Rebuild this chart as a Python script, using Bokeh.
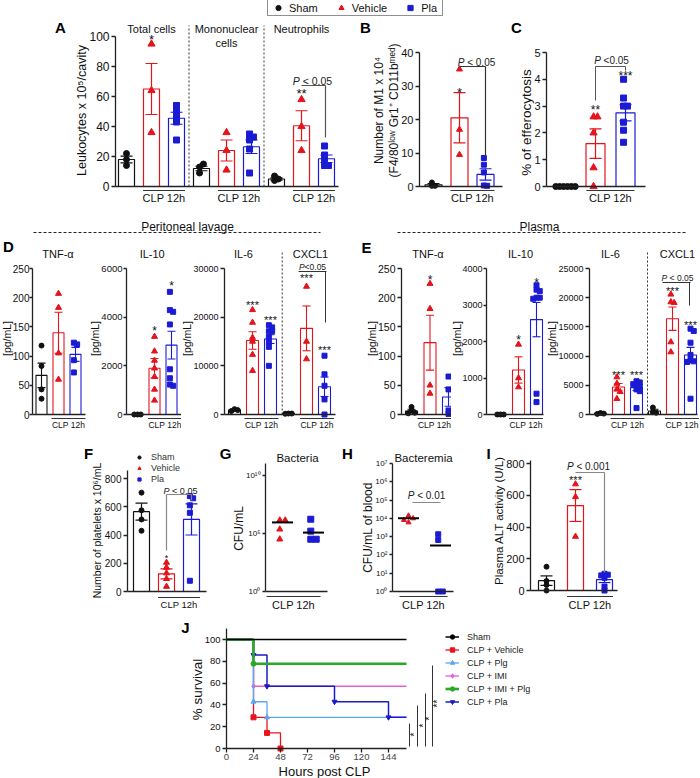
import math
from bokeh.plotting import figure
from bokeh.models import Range1d, FixedTicker, Legend, LegendItem, Spacer
from bokeh.layouts import row, column
from bokeh.embed import file_html
from bokeh.resources import INLINE
from bokeh.core.properties import value

# ============================ DATA ============================
GROUPS = ["Sham", "Vehicle", "Pla"]

# A - leukocytes (x10^5 / cavity)
A_categories = ["Total cells", "Mononuclear cells", "Neutrophils"]
A_groups = ["Sham", "Vehicle", "Pla", "Sham", "Vehicle", "Pla", "Sham", "Vehicle", "Pla"]
A_means = [18, 65, 45.5, 12, 24, 26.5, 5, 40.5, 18.5]
A_sem = [2.3, 17, 4, 1.5, 7, 4.5, 0.8, 10, 2.5]
A_points = [[22, 18, 14], [95, 64, 36], [54, 50, 47, 43, 31],
            [13, 15, 9], [36, 24, 11], [35, 33, 31, 25, 9],
            [7, 5, 4], [58, 40, 24], [27, 21, 17, 14, 14]]

# B - M1 macrophages (x10^4)
B_means = [0.5, 20.5, 3.6]
B_sem = [0.4, 7.5, 1.7]
B_points = [[1.2, 0.2, 0.2], [35, 17, 9.5], [8.5, 6.5, 4.2, 0.3, 0.2]]

# C - % of efferocytosis
C_means = [0, 1.6, 2.75]
C_sem = [0, 0.55, 0.3]
C_points = [[0, 0, 0, 0, 0, 0], [2.6, 2.6, 2.0, 0.7, 0.0], [4.0, 3.3, 3.0, 3.0, 2.4, 2.1, 1.65]]

# D - peritoneal lavage cytokines (pg/mL)
D_tnf_means = [67, 140, 103]
D_tnf_sem = [21, 35, 12]
D_tnf_points = [[118, 83, 43, 27], [207, 183, 105, 60], [123, 120, 93, 72]]
D_il10_means = [0, 1900, 2850]
D_il10_sem = [0, 400, 570]
D_il10_points = [[0, 0, 0], [3200, 2600, 2220, 1900, 1550, 1030, 580],
                 [5040, 4290, 4220, 3700, 1860, 1490, 1230, 1180]]
D_il6_cxcl1_groups = ["Sham", "Vehicle", "Pla", "Sham", "Vehicle", "Pla"]
D_il6_cxcl1_means = [900, 15200, 15500, 150, 17700, 5700]
D_il6_cxcl1_sem = [150, 1800, 900, 50, 4600, 2000]
D_il6_cxcl1_points = [[1100, 900, 700], [21500, 18900, 15800, 15000, 12300, 9000],
                      [18350, 17900, 17100, 17100, 15900, 14900, 13900, 10000],
                      [200, 200, 150], [26300, 15000, 11400], [12080, 8260, 5900, 3100, 0]]

# E - plasma cytokines (pg/mL)
E_tnf_means = [6, 123, 30]
E_tnf_sem = [3, 47, 16]
E_tnf_points = [[13, 7, 3, 2], [224, 181, 50, 36], [65, 43, 7, 1]]
E_il10_means = [0, 1220, 2600]
E_il10_sem = [0, 360, 470]
E_il10_points = [[0, 0, 0], [1920, 1000, 750], [3540, 3420, 3380, 3200, 3200, 3170, 570, 340]]
E_il6_cxcl1_groups = ["Sham", "Vehicle", "Pla", "Sham", "Vehicle", "Pla"]
E_il6_cxcl1_means = [200, 4700, 4600, 600, 16400, 10200]
E_il6_cxcl1_sem = [80, 600, 500, 300, 2000, 1300]
E_il6_cxcl1_points = [[250, 150, 100], [6400, 5300, 4300, 3900, 2700],
                      [5700, 5500, 5200, 5000, 4800, 4300, 4000, 1100],
                      [1200, 400, 300], [20570, 19260, 19140, 12400, 10690],
                      [14700, 14300, 12300, 10200, 9300, 9100, 9000, 2700]]

# F - platelets (x10^6/mL)
F_means = [565, 125, 510]
F_sem = [60, 35, 110]
F_points = [[700, 575, 510, 430], [205, 170, 130, 90, 35], [675, 660, 610, 557, 76]]

# G - bacteria in lavage (CFU/mL), H - bacteremia (CFU/mL of blood)
GH_groups = ["Vehicle", "Pla"]
G_points = [[1.4e6, 1.4e6, 2.3e5, 3.2e4], [1.7e6, 1.6e5, 3.2e4, 3.2e4]]
G_medians = [9e5, 1.2e5]
H_points = [[1.4e4, 1.0e4, 8.1e3, 6.0e3], [1.35e3, 6.6e2, 1, 1]]
H_medians = [1.0e4, 3.3e2]

# I - plasma ALT (U/L)
I_means = [62, 535, 68]
I_sem = [30, 100, 18]
I_points = [[150, 60, 35, 0], [670, 590, 340], [105, 100, 95, 80, 25, 0]]

# J - survival
J_groups = ["Sham", "CLP + Vehicle", "CLP + Plg", "CLP + IMI", "CLP + IMI + Plg", "CLP + Pla"]
J_end = 160
J_times = [[0, 160], [0, 24, 36, 48], [0, 24, 36, 160], [0, 24, 160], [0, 24, 160],
           [0, 24, 36, 96, 144, 160]]
J_surv = [[100, 100], [100, 28.6, 14.3, 0], [100, 42.9, 28.6, 28.6], [100, 57.1, 57.1],
          [100, 77.8, 77.8], [100, 85.7, 57.1, 42.9, 28.6, 28.6]]
J_xticks = [0, 24, 48, 72, 96, 120, 144]
J_yticks = [0, 20, 40, 60, 80, 100]

# ============================ STYLE ============================
FONT = "Liberation Sans"
COL = {"Sham": "#111111", "Vehicle": "#e3141c", "Pla": "#1b1bd4"}
MARK = {"Sham": "circle", "Vehicle": "triangle", "Pla": "square"}
J_COL = ["#000000", "#e8141c", "#5aa8ee", "#e25fd6", "#2aa82a", "#1a1ac8"]
J_MARK = ["circle", "square", "triangle", "diamond", "circle", "inverted_triangle"]
J_LW = [1.5, 1.3, 1.3, 1.3, 2.6, 1.5]
CW = {"P": 0.667, "<": 0.584, " ": 0.278, ".": 0.278}


def make_fig(canvas, axes_px, xmap, ymap, log=False):
    """Frame covers the whole canvas; axes are placed at fixed data locations."""
    cx, cy, cw, ch = canvas
    ax_left, ax_right = axes_px
    c0, sp = xmap
    y0, yt, yv = ymap
    if log:
        k = (y0 - yt) / math.log10(yv)

        def Y(py):
            return 10 ** ((y0 - py) / k)
    else:
        k = (y0 - yt) / yv

        def Y(py):
            return (y0 - py) / k

    def X(px):
        return (px - c0) / sp

    p = figure(width=cw, height=ch, output_backend="svg", toolbar_location=None,
               x_range=Range1d(X(cx), X(cx + cw)), y_range=Range1d(Y(cy + ch), Y(cy)),
               y_axis_type="log" if log else "linear",
               min_border_left=0, min_border_right=0, min_border_top=0, min_border_bottom=0)
    p.outline_line_color = None
    p.xgrid.visible = False
    p.ygrid.visible = False
    xa = p.xaxis[0]
    xa.axis_line_width = 1.3
    xa.axis_line_color = "#222222"
    xa.fixed_location = 1 if log else 0
    xa.bounds = (X(ax_left), X(ax_right))
    xa.ticker = FixedTicker(ticks=[])
    xa.major_tick_line_color = None
    xa.minor_tick_line_color = None
    xa.major_label_text_font_size = "0px"
    xa.major_label_standoff = 0
    p.yaxis[0].fixed_location = X(ax_left)
    return p, X, Y, k, sp


def style_y(p, ticks, top, tick_px, overrides=None, tick_out=4, standoff=2):
    ya = p.yaxis[0]
    ya.ticker = FixedTicker(ticks=ticks)
    ya.bounds = (ticks[0], top)
    ya.axis_line_width = 1.3
    ya.axis_line_color = "#222222"
    ya.major_tick_line_width = 1.3
    ya.major_tick_line_color = "#222222"
    ya.major_tick_out = tick_out
    ya.major_tick_in = 0
    ya.minor_tick_line_color = None
    ya.major_label_text_font = FONT
    ya.major_label_text_font_size = f"{tick_px}px"
    ya.major_label_text_color = "#111111"
    ya.major_label_standoff = standoff
    if overrides:
        ya.major_label_overrides = overrides


def txt(p, x, y, s, size, color="#111111", align="center", style="normal", angle=0.0,
        xoff=0.0, yoff=0.0, baseline="middle"):
    p.text(x=[x], y=[y], text=[s], text_font=value(FONT), text_font_size=value(f"{size}px"),
           text_color=color, text_align=align, text_baseline=baseline, text_font_style=style,
           angle=angle, x_offset=xoff, y_offset=yoff)


def ylab(p, X, Y, xpx, ypx, s, size):
    txt(p, X(xpx), Y(ypx), s, size, angle=math.pi / 2)


def star(p, x, y, s, size, angle=0.0):
    txt(p, x, y, s, size, yoff=0.23 * size if angle == 0 else 0, angle=angle)


def pval(p, x, y, rest, size, color="#222222", gap=True):
    # italic "P" followed by the comparison; leading space is added as an offset
    wp = CW["P"] * size
    wg = CW[" "] * size if gap else 0.0
    wr = sum(CW.get(c, 0.556) for c in rest) * size
    left = -(wp + wg + wr) / 2
    txt(p, x, y, "P", size, color, align="left", style="italic", xoff=left)
    txt(p, x, y, rest, size, color, align="left", xoff=left + wp + wg)


def seg(p, x0, y0, x1, y1, color="#222222", width=1.0, dash="solid"):
    p.segment(x0=[x0], y0=[y0], x1=[x1], y1=[y1], line_color=color, line_width=width,
              line_dash=dash)


def letter(p, x, y, s):
    txt(p, x, y, s, 15, color="#000000", style="bold")


def clp(p, X, Y, xc_px, half_px, ty, ly, size):
    txt(p, X(xc_px), Y(ty), "CLP 12h", size)
    seg(p, X(xc_px - half_px), Y(ly), X(xc_px + half_px), Y(ly), "#333333", 1.0)


def swarm(vals, k, size, log=False):
    d = 0.65 * size
    placed, offs = [], []
    for v in vals:
        y = (math.log10(v) if log else v) * k
        ox = 0.0
        for j in (0, 1, -1, 2, -2, 3, -3, 4, -4):
            ox = j * d
            if all((ox - a) ** 2 + (y - b) ** 2 >= d * d for a, b in placed):
                break
        placed.append((ox, y))
        offs.append(ox)
    shift = (max(offs) + min(offs)) / 2
    return [o - shift for o in offs]


def draw_bars(p, xs, groups, means, sems, points, sp, k, bar_px, cap_px, msize, lw=1.2):
    bx, btop, bcol = [], [], []
    ex, elo, ehi, ecol = [], [], [], []
    qx, qy, qm, qc, qs = [], [], [], [], []
    for x, g, m, s, pts in zip(xs, groups, means, sems, points):
        col = COL[g]
        bx.append(x)
        btop.append(m)
        bcol.append(col)
        if s > 0:
            ex.append(x)
            elo.append(m - s)
            ehi.append(m + s)
            ecol.append(col)
        for v, o in zip(pts, swarm(pts, k, msize)):
            qx.append(x + o / sp)
            qy.append(v)
            qm.append(MARK[g])
            qc.append(col)
            qs.append(msize * 1.2 if g == "Vehicle" else msize)
    bw = bar_px / sp
    cw = cap_px / sp
    p.vbar(x=bx, top=btop, bottom=0, width=bw, fill_color=None, line_color=bcol, line_width=lw)
    p.segment(x0=ex, x1=ex, y0=elo, y1=ehi, line_color=ecol, line_width=lw)
    p.segment(x0=[x - cw for x in ex], x1=[x + cw for x in ex], y0=ehi, y1=ehi,
              line_color=ecol, line_width=lw)
    p.segment(x0=[x - cw for x in ex], x1=[x + cw for x in ex], y0=elo, y1=elo,
              line_color=ecol, line_width=lw)
    p.scatter(x=qx, y=qy, marker=qm, size=qs, fill_color=qc, line_color=qc)


def legend_swatches(p, sizes):
    # legend-only renderers (one point each, placed outside the visible range)
    return [p.scatter(x=[-1e9], y=[-1e9], marker=MARK[g], size=sz, fill_color=COL[g],
                      line_color=COL[g]) for g, sz in zip(GROUPS, sizes)]


# ============================ LEGEND STRIP ============================
leg = figure(width=178, height=16, output_backend="svg", toolbar_location=None,
             x_range=Range1d(0, 1), y_range=Range1d(0, 1),
             x_axis_location=None, y_axis_location=None,
             min_border_left=0, min_border_right=0, min_border_top=0, min_border_bottom=0)
leg.outline_line_color = None
leg.xgrid.visible = False
leg.ygrid.visible = False
leg_r = legend_swatches(leg, [6, 7, 6])
top_legend = Legend(items=[LegendItem(label=g, renderers=[r]) for g, r in zip(GROUPS, leg_r)],
                    orientation="horizontal", location=(1, 0), glyph_width=18, glyph_height=13,
                    label_height=13, label_standoff=2, spacing=14, padding=1, margin=0,
                    border_line_color="#222222", border_line_width=1,
                    label_text_font=FONT, label_text_font_size="11px",
                    label_text_color="#111111", background_fill_alpha=0)
leg.add_layout(top_legend)

# ============================ ROW 1: A B C ============================
pA, XA, YA, kA, spA = make_fig((0, 16, 342, 190), (115, 338), (126, 25), (186, 36, 100))
style_y(pA, [0, 20, 40, 60, 80, 100], 100, 12)
ylab(pA, XA, YA, 81.5, 110, "Leukocytes x 10⁵/cavity", 12.5)
xsA = list(range(len(A_means)))
draw_bars(pA, xsA, A_groups, A_means, A_sem, A_points, spA, kA, 16, 6, 6)
for d in (2.5, 5.5):
    seg(pA, d, 0, d, YA(25), "#333333", 1.0, "2 2")
txt(pA, 1, YA(28), A_categories[0], 11)
txt(pA, 4, YA(28), "Mononuclear", 11)
txt(pA, 4, YA(42), "cells", 11)
txt(pA, 7, YA(28), A_categories[2], 11)
for c in (1.5, 4.5, 7.5):
    clp(pA, XA, YA, 126 + c * 25, 21, 197, 190, 11)
star(pA, 1, YA(36), "*", 13)
star(pA, 7, YA(90), "**", 13)
pval(pA, XA(312), YA(80), "< 0.05", 10.5)
seg(pA, 7, YA(85), 7.96, YA(85), "#555555", 1.2)
seg(pA, 7.96, YA(85), 7.96, YA(137), "#555555", 1.2)
letter(pA, XA(60), YA(27), "A")

pB, XB, YB, kB, spB = make_fig((342, 16, 168, 190), (419, 502), (433, 26), (186, 52, 40))
style_y(pB, [0, 10, 20, 30, 40], 40, 11)
ylab(pB, XB, YB, 378, 110, "Number of M1 x 10⁴", 12)
ylab(pB, XB, YB, 393, 110, "(F4/80ˡᵒʷ Gr1⁺ CD11bᵐᵉᵈ)", 12)
draw_bars(pB, [0, 1, 2], GROUPS, B_means, B_sem, B_points, spB, kB, 17, 6, 5)
clp(pB, XB, YB, 433 + 1.5 * 26, 22, 197, 190, 11)
star(pB, 1, YB(89), "*", 13)
pval(pB, XB(476), YB(62), "< 0.05", 10)
seg(pB, 1, YB(66), 2, YB(66), "#333333", 1.2)
seg(pB, 2, YB(66), 2, YB(157), "#333333", 1.2)
letter(pB, XB(365), YB(27), "B")

pC, XC, YC, kC, spC = make_fig((510, 16, 190, 190), (546, 645), (565, 30), (186, 52, 5))
style_y(pC, [0, 1, 2, 3, 4, 5], 5, 11)
ylab(pC, XC, YC, 526, 122, "% of efferocytosis", 13.5)
draw_bars(pC, [0, 1, 2], GROUPS, C_means, C_sem, C_points, spC, kC, 19, 6, 6)
clp(pC, XC, YC, 565 + 1.5 * 30, 24, 197, 190, 11)
star(pC, 1, YC(107), "**", 12)
star(pC, 2, YC(73), "***", 12)
pval(pC, XC(611), YC(60), "<0.05", 10)
seg(pC, 1, YC(66), 2, YC(66), "#555555", 1.0)
seg(pC, 1, YC(66), 1, YC(100), "#555555", 1.0)
seg(pC, 2, YC(66), 2, YC(70), "#555555", 1.0)
letter(pC, XC(516), YC(27), "C")

# ============================ ROW 2 header ============================
hdr = figure(width=700, height=30, output_backend="svg", toolbar_location=None,
             x_range=Range1d(0, 700), y_range=Range1d(30, 0),
             x_axis_location=None, y_axis_location=None,
             min_border_left=0, min_border_right=0, min_border_top=0, min_border_bottom=0)
hdr.outline_line_color = None
hdr.xgrid.visible = False
hdr.ygrid.visible = False
txt(hdr, 187, 20, "Peritoneal lavage", 12)
seg(hdr, 33, 26, 320, 26, "#222222", 1.0, "3 2")
txt(hdr, 539, 20, "Plasma", 12)
seg(hdr, 397, 26, 687, 26, "#222222", 1.0, "3 2")


# ============================ ROW 2: D, E ============================
ROW2_TOP, ROW2_H = 236, 196


def cyto_panel(xspan, axes_px, xmap, top, ticks, tick_px, groups, means, sems, points,
               bar_px, title_specs, clp_px, label_x, tick_out=4, standoff=2):
    canvas = (xspan[0], ROW2_TOP, xspan[1], ROW2_H)
    p, X, Y, k, sp = make_fig(canvas, axes_px, xmap, (414, 268, top))
    style_y(p, ticks, top, tick_px, tick_out=tick_out, standoff=standoff)
    ylab(p, X, Y, label_x, 338, "[pg/mL]", 10.5)
    xs = [i for i in range(len(means))]
    draw_bars(p, xs, groups, means, sems, points, sp, k, bar_px, 4, 5, lw=1.1)
    for tx, tt in title_specs:
        txt(p, X(tx), Y(253), tt, 11)
    for cx in clp_px:
        clp(p, X, Y, cx, 17, 424, 418, 8.5)
    return p, X, Y


pDt, XDt, YDt = cyto_panel((0, 88), (32, 85), (41, 17), 250,
                           [0, 50, 100, 150, 200, 250], 10, GROUPS, D_tnf_means, D_tnf_sem,
                           D_tnf_points, 11, [(57.5, "TNF-α")], [68], 6.3,
                           tick_out=3, standoff=0)
letter(pDt, XDt(8), YDt(246), "D")

pDi10, XDi10, YDi10 = cyto_panel((88, 93), (126, 181), (137, 17), 6000,
                                 [0, 2000, 4000, 6000], 9.5, GROUPS, D_il10_means, D_il10_sem,
                                 D_il10_points, 11, [(151.7, "IL-10")], [164.5], 94.5,
                                 tick_out=3, standoff=1)
star(pDi10, 1, YDi10(328), "*", 12)
star(pDi10, 2, YDi10(283), "*", 12)

pDi6, XDi6, YDi6 = cyto_panel((181, 159), (224, 335), (234, 18), 30000,
                              [0, 10000, 20000, 30000], 9, D_il6_cxcl1_groups,
                              D_il6_cxcl1_means, D_il6_cxcl1_sem, D_il6_cxcl1_points, 12,
                              [(243, "IL-6"), (310, "CXCL1")], [261, 316.5], 186.5)
seg(pDi6, 2.65, 0, 2.65, YDi6(250), "#333333", 1.0, "2 2")
star(pDi6, 1, YDi6(302), "***", 11)
star(pDi6, 2, YDi6(317), "***", 11)
star(pDi6, 4, YDi6(275), "***", 11)
star(pDi6, 5, YDi6(347), "***", 11)
pval(pDi6, XDi6(312), YDi6(266), "<0.05", 8.5, gap=False)
seg(pDi6, XDi6(298), YDi6(271), XDi6(326), YDi6(271), "#333333", 1.0)
seg(pDi6, XDi6(325), YDi6(271), XDi6(325), YDi6(322), "#333333", 1.0)

pEt, XEt, YEt = cyto_panel((340, 111), (401, 453), (411, 18.5), 250,
                           [0, 50, 100, 150, 200, 250], 10.5, GROUPS, E_tnf_means, E_tnf_sem,
                           E_tnf_points, 12, [(427.5, "TNF-α")], [434], 371)
star(pEt, 1, YEt(277), "*", 12)
letter(pEt, XEt(366), YEt(247), "E")

pEi10, XEi10, YEi10 = cyto_panel((451, 94), (486, 543), (500, 18), 4000,
                                 [0, 1000, 2000, 3000, 4000], 9, GROUPS, E_il10_means,
                                 E_il10_sem, E_il10_points, 12, [(520, "IL-10")], [525.5], 456.5,
                                 tick_out=3, standoff=1)
star(pEi10, 1, YEi10(337), "*", 12)
star(pEi10, 2, YEi10(280), "*", 12)

pEi6, XEi6, YEi6 = cyto_panel((545, 155), (589, 697), (600, 18), 25000,
                              [0, 5000, 10000, 15000, 20000, 25000], 9, E_il6_cxcl1_groups,
                              E_il6_cxcl1_means, E_il6_cxcl1_sem, E_il6_cxcl1_points, 12,
                              [(610, "IL-6"), (677, "CXCL1")], [627, 681.5], 551.5)
seg(pEi6, XEi6(647), 0, XEi6(647), YEi6(250), "#333333", 1.0, "2 2")
star(pEi6, 1, YEi6(372), "***", 11)
star(pEi6, 2, YEi6(372), "***", 11)
star(pEi6, 4, YEi6(288), "***", 11)
star(pEi6, 5, YEi6(322), "***", 11)
pval(pEi6, XEi6(677), YEi6(277), "< 0.05", 8.5)
seg(pEi6, XEi6(662), YEi6(282), XEi6(690), YEi6(282), "#333333", 1.0)
seg(pEi6, XEi6(689), YEi6(282), XEi6(689), YEi6(305), "#333333", 1.0)

# ============================ ROW 3: F G H I ============================
pF, XF, YF, kF, spF = make_fig((80, 432, 135, 182), (127, 206), (141, 25), (591, 478, 800))
style_y(pF, [0, 200, 400, 600, 800], 860, 10)
ylab(pF, XF, YF, 96, 530, "Number of platelets x 10⁶/mL", 10.5)
draw_bars(pF, [0, 1, 2], GROUPS, F_means, F_sem, F_points, spF, kF, 16, 6, 5)
clp(pF, XF, YF, 141 + 1.5 * 25, 21, 604, 597, 9.5)
star(pF, 1, YF(555), "*", 9)
pval(pF, XF(180), YF(490), "< 0.05", 9)
seg(pF, 1, YF(494), 2, YF(494), "#888888", 1.2)
seg(pF, 1, YF(494), 1, YF(550), "#888888", 1.2)
seg(pF, 2, YF(494), 2, YF(500), "#888888", 1.2)
f_r = legend_swatches(pF, [4.5, 5, 4.5])
pF.add_layout(Legend(items=[LegendItem(label=g, renderers=[r]) for g, r in zip(GROUPS, f_r)],
                     location=(53, 130), glyph_width=12, glyph_height=8, label_height=8,
                     label_standoff=6, spacing=1, padding=0, margin=0, border_line_color=None,
                     background_fill_alpha=0, label_text_font=FONT, label_text_font_size="9px",
                     label_text_color="#333333"))
letter(pF, XF(88), YF(453), "F")


def log_panel(canvas, axes_px, xmap, ymap, ticks, top, label, label_xy, points, medians, title,
              title_x, clp_px, msize):
    p, X, Y, k, sp = make_fig(canvas, axes_px, xmap, ymap, log=True)
    sup = str.maketrans("0123456789", "⁰¹²³⁴⁵⁶⁷⁸⁹")
    over = {t: "10" + str(round(math.log10(t))).translate(sup) for t in ticks}
    style_y(p, ticks, top, 8, overrides=over, tick_out=3)
    ylab(p, X, Y, label_xy[0], label_xy[1], label, 12)
    qx, qy, qm, qc = [], [], [], []
    for i, (g, pts) in enumerate(zip(GH_groups, points)):
        for v, o in zip(pts, swarm(pts, k, msize * 1.4, log=True)):
            qx.append(i + o / sp)
            qy.append(v)
            qm.append(MARK[g])
            qc.append(COL[g])
    p.scatter(x=qx, y=qy, marker=qm, size=msize, fill_color=qc, line_color=qc)
    hw = 10.5 / sp
    p.segment(x0=[i - hw for i in range(len(medians))], x1=[i + hw for i in range(len(medians))],
              y0=medians, y1=medians, line_color="#000000", line_width=2)
    txt(p, X(title_x), Y(457), title, 11.5)
    clp(p, X, Y, clp_px[0], clp_px[1], 604, 596, 11)
    return p, X, Y


pG, XG, YG = log_panel((215, 432, 125, 182), (265, 327), (282, 31), (591, 475, 1e10),
                       [1, 100000, 10000000000], 1e11, "CFU/mL", (238, 528), G_points,
                       G_medians, "Bacteria", 297, (293, 27), 6)
letter(pG, XG(225), YG(453), "G")

pH, XH, YH = log_panel((340, 432, 142, 182), (392, 453), (408, 32), (591, 463, 1e7),
                       [1, 10, 100, 1000, 10000, 100000, 1000000, 10000000], 1e7,
                       "CFU/mL of blood", (367, 527), H_points, H_medians, "Bacteremia", 423,
                       (423, 24), 5)
pval(pH, XH(426), YH(495), "< 0.01", 10)
seg(pH, XH(412), YH(502), XH(440), YH(502), "#888888", 1.2)
letter(pH, XH(347), YH(453), "H")

pI, XI, YI, kI, spI = make_fig((482, 432, 218, 182), (530, 617), (546, 29), (590, 463, 800))
style_y(pI, [0, 200, 400, 600, 800], 820, 11)
ylab(pI, XI, YI, 498.5, 520, "Plasma ALT activity (U/L)", 11.5)
draw_bars(pI, [0, 1, 2], GROUPS, I_means, I_sem, I_points, spI, kI, 16, 6, 5)
clp(pI, XI, YI, 546 + 1.5 * 29, 23, 604, 596, 11)
star(pI, 1, YI(477), "***", 11)
pval(pI, XI(588), YI(466), "< 0.001", 10)
seg(pI, 1, YI(472), 2, YI(472), "#888888", 1.2)
seg(pI, 2, YI(472), 2, YI(572), "#888888", 1.2)
letter(pI, XI(488), YI(453), "I")

# ============================ ROW 4: J ============================
pJ, XJ, YJ, kJ, spJ = make_fig((0, 614, 700, 164), (226, 406), (226, 1.125), (748, 639, 100))
style_y(pJ, J_yticks, 110, 9.5)
ylab(pJ, XJ, YJ, 197, 689, "% survival", 13.5)
txt(pJ, XJ(324), YJ(771), "Hours post CLP", 13)
xaJ = pJ.xaxis[0]
xaJ.ticker = FixedTicker(ticks=J_xticks)
xaJ.bounds = (0, J_end)
xaJ.major_tick_out = 4
xaJ.major_tick_in = 0
xaJ.major_tick_line_width = 1.3
xaJ.major_tick_line_color = "#222222"
xaJ.minor_tick_line_color = None
xaJ.major_label_text_font = FONT
xaJ.major_label_text_font_size = "9.5px"
xaJ.major_label_standoff = 1

j_renderers = {}
for idx in (1, 3, 2, 5, 4, 0):
    t, s = J_times[idx], J_surv[idx]
    lr = pJ.step(x=t, y=s, mode="after", line_color=J_COL[idx], line_width=J_LW[idx])
    ev = [i for i in range(1, len(t)) if t[i] < J_end]
    if not ev:
        sr = pJ.scatter(x=[-1e9], y=[-1e9], marker=J_MARK[idx], size=5,
                        fill_color=J_COL[idx], line_color=J_COL[idx])
    else:
        sr = pJ.scatter(x=[t[i] for i in ev], y=[s[i] for i in ev], marker=J_MARK[idx], size=5,
                        fill_color=J_COL[idx], line_color=J_COL[idx])
    j_renderers[idx] = [lr, sr]
pJ.add_layout(Legend(items=[LegendItem(label=J_groups[i], renderers=j_renderers[i])
                            for i in range(len(J_groups))],
                     location=(445, 71), glyph_width=14, glyph_height=11, label_height=11,
                     label_standoff=8, spacing=2, padding=0, margin=0, border_line_color=None,
                     background_fill_alpha=0,
                     label_text_font="Liberation Sans Narrow, Liberation Sans",
                     label_text_font_size="9px", label_text_color="#222222"))
for (lx, ltop), (sx, sy, ss) in zip([(409, 723), (417, 705), (425, 693), (432, 665)],
                                    [(414, 734, "*"), (423, 725, "*"), (429, 718, "*"),
                                     (437, 703, "**")]):
    seg(pJ, XJ(lx), YJ(ltop), XJ(lx), YJ(746), "#333333", 1.0)
    txt(pJ, XJ(sx), YJ(sy), ss, 10, angle=math.pi / 2)
letter(pJ, XJ(185), YJ(627), "J")

# ============================ LAYOUT ============================
root = column(
    row(Spacer(width=266, height=16), leg, Spacer(width=256, height=16), spacing=0),
    row(pA, pB, pC, spacing=0),
    hdr,
    row(pDt, pDi10, pDi6, pEt, pEi10, pEi6, spacing=0),
    row(Spacer(width=80, height=182), pF, pG, pH, pI, spacing=0),
    pJ,
    spacing=0,
)

open("out.html", "w").write(file_html(root, INLINE))
